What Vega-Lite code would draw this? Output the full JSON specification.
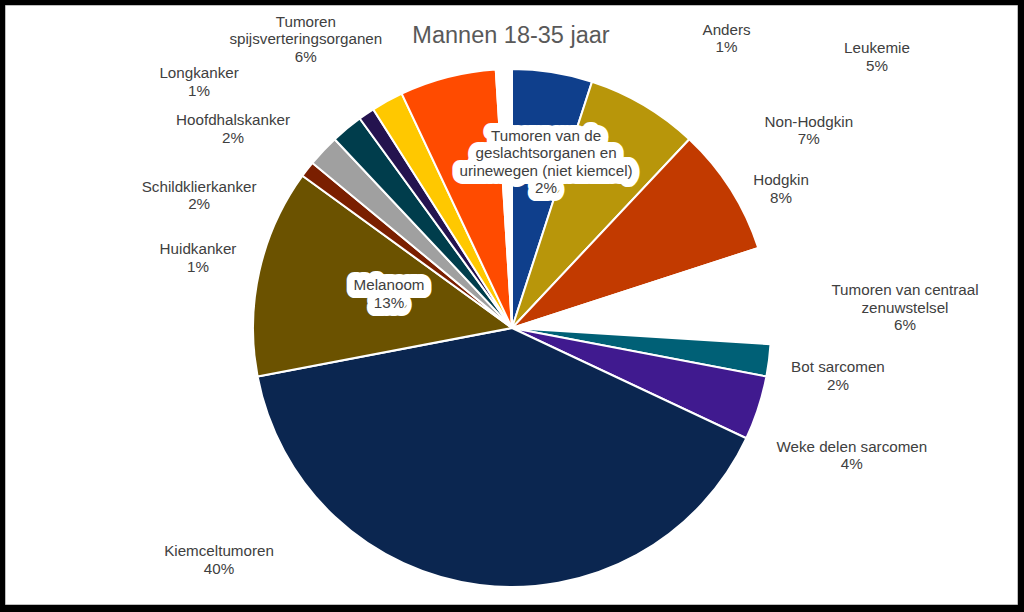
{
  "$schema": "https://vega.github.io/schema/vega-lite/v6.json",
  "width": 1024,
  "height": 612,
  "autosize": {"type": "fit", "contains": "padding"},
  "padding": {"top": 5, "left": 5, "right": 7, "bottom": 8},
  "background": "black",
  "view": {"fill": "white", "stroke": "#bfbfbf", "strokeWidth": 1},
  "title": {"text": "Mannen 18-35 jaar", "font": "Liberation Sans", "fontSize": 23.5, "fontWeight": "normal", "color": "#595959", "offset": -61, "baseline": "alphabetic", "anchor": "middle"},
  "config": {
    "view": {"fill": "white", "stroke": "#bfbfbf", "strokeWidth": 1},
    "style": {"view": {"fill": "white", "stroke": "#bfbfbf", "strokeWidth": 1}},
    "text": {"font": "Liberation Sans", "fontSize": 15.2, "fill": "#404040", "lineHeight": 17.5}
  },
  "data": {"values": [
    {"idx": 1, "category": "Leukemie", "pct": 5, "label": ["Leukemie", "5%"]},
    {"idx": 2, "category": "Non-Hodgkin", "pct": 7, "label": ["Non-Hodgkin", "7%"]},
    {"idx": 3, "category": "Hodgkin", "pct": 8, "label": ["Hodgkin", "8%"]},
    {"idx": 4, "category": "Tumoren van centraal zenuwstelsel", "pct": 6, "label": ["Tumoren van centraal", "zenuwstelsel", "6%"]},
    {"idx": 5, "category": "Bot sarcomen", "pct": 2, "label": ["Bot sarcomen", "2%"]},
    {"idx": 6, "category": "Weke delen sarcomen", "pct": 4, "label": ["Weke delen sarcomen", "4%"]},
    {"idx": 7, "category": "Kiemceltumoren", "pct": 40, "label": ["Kiemceltumoren", "40%"]},
    {"idx": 8, "category": "Melanoom", "pct": 13, "label": ["Melanoom", "13%"]},
    {"idx": 9, "category": "Huidkanker", "pct": 1, "label": ["Huidkanker", "1%"]},
    {"idx": 10, "category": "Schildklierkanker", "pct": 2, "label": ["Schildklierkanker", "2%"]},
    {"idx": 11, "category": "Hoofdhalskanker", "pct": 2, "label": ["Hoofdhalskanker", "2%"]},
    {"idx": 12, "category": "Longkanker", "pct": 1, "label": ["Longkanker", "1%"]},
    {"idx": 13, "category": "Tumoren van de geslachtsorganen en urinewegen (niet kiemcel)", "pct": 2, "label": ["Tumoren van de", "geslachtsorganen en", "urinewegen (niet kiemcel)", "2%"]},
    {"idx": 14, "category": "Tumoren spijsverteringsorganen", "pct": 6, "label": ["Tumoren", "spijsverteringsorganen", "6%"]},
    {"idx": 15, "category": "Anders", "pct": 1, "label": ["Anders", "1%"]}
  ]},
  "transform": [
    {"stack": "pct", "groupby": [], "sort": [{"field": "idx", "order": "ascending"}], "as": ["s0", "s1"]}
  ],
  "layer": [
    {
      "mark": {"type": "arc", "outerRadius": 259, "stroke": "white", "strokeWidth": 2, "xOffset": 1, "yOffset": 23.5},
      "encoding": {
        "theta": {"field": "s0", "type": "quantitative", "scale": {"domain": [0, 100]}},
        "theta2": {"field": "s1"},
        "color": {"field": "category", "type": "nominal", "legend": null,
          "scale": {
            "domain": ["Leukemie", "Non-Hodgkin", "Hodgkin", "Tumoren van centraal zenuwstelsel", "Bot sarcomen", "Weke delen sarcomen", "Kiemceltumoren", "Melanoom", "Huidkanker", "Schildklierkanker", "Hoofdhalskanker", "Longkanker", "Tumoren van de geslachtsorganen en urinewegen (niet kiemcel)", "Tumoren spijsverteringsorganen", "Anders"],
            "range": ["#0F3F8C", "#B8960A", "#C23A00", "#FFFFFF", "#006076", "#401A8F", "#0B2650", "#6B5200", "#7A1F00", "#A0A0A0", "#003D4C", "#24134F", "#FFC800", "#FF4B00", "#FFFFFF"]
          }
        }
      }
    },
    {"transform": [{"filter": "datum.category === 'Leukemie'"}],
     "mark": {"type": "text", "radius": 454.6, "thetaOffset": 0.932, "xOffset": 1, "yOffset": 23.5, "dy": -8.75, "align": "center", "baseline": "middle"},
     "encoding": {"theta": {"field": "s0", "type": "quantitative", "stack": null}, "text": {"field": "label"}}},
    {"transform": [{"filter": "datum.category === 'Non-Hodgkin'"}],
     "mark": {"type": "text", "radius": 356.4, "thetaOffset": 0.67, "xOffset": 1, "yOffset": 23.5, "dy": -8.75, "align": "center", "baseline": "middle"},
     "encoding": {"theta": {"field": "s0", "type": "quantitative", "stack": null}, "text": {"field": "label"}}},
    {"transform": [{"filter": "datum.category === 'Hodgkin'"}],
     "mark": {"type": "text", "radius": 302.8, "thetaOffset": 0.34, "xOffset": 1, "yOffset": 23.5, "dy": -8.75, "align": "center", "baseline": "middle"},
     "encoding": {"theta": {"field": "s0", "type": "quantitative", "stack": null}, "text": {"field": "label"}}},
    {"transform": [{"filter": "datum.category === 'Tumoren van centraal zenuwstelsel'"}],
     "mark": {"type": "text", "radius": 393.5, "thetaOffset": 0.263, "xOffset": 1, "yOffset": 23.5, "dy": -17.5, "align": "center", "baseline": "middle"},
     "encoding": {"theta": {"field": "s0", "type": "quantitative", "stack": null}, "text": {"field": "label"}}},
    {"transform": [{"filter": "datum.category === 'Bot sarcomen'"}],
     "mark": {"type": "text", "radius": 329.5, "thetaOffset": 0.084, "xOffset": 1, "yOffset": 23.5, "dy": -8.75, "align": "center", "baseline": "middle"},
     "encoding": {"theta": {"field": "s0", "type": "quantitative", "stack": null}, "text": {"field": "label"}}},
    {"transform": [{"filter": "datum.category === 'Weke delen sarcomen'"}],
     "mark": {"type": "text", "radius": 362.9, "thetaOffset": 0.17, "xOffset": 1, "yOffset": 23.5, "dy": -8.75, "align": "center", "baseline": "middle"},
     "encoding": {"theta": {"field": "s0", "type": "quantitative", "stack": null}, "text": {"field": "label"}}},
    {"transform": [{"filter": "datum.category === 'Kiemceltumoren'"}],
     "mark": {"type": "text", "radius": 373.7, "thetaOffset": 2.032, "xOffset": 1, "yOffset": 23.5, "dy": -8.75, "align": "center", "baseline": "middle"},
     "encoding": {"theta": {"field": "s0", "type": "quantitative", "stack": null}, "text": {"field": "label"}}},
    {"transform": [{"filter": "datum.category === 'Melanoom'"}],
     "mark": {"type": "text", "radius": 127.6, "thetaOffset": 0.459, "xOffset": 1, "yOffset": 23.5, "dy": -8.75, "align": "center", "baseline": "middle", "fill": "white", "stroke": "white", "strokeWidth": 16, "strokeJoin": "round"},
     "encoding": {"theta": {"field": "s0", "type": "quantitative", "stack": null}, "text": {"field": "label"}}},
    {"transform": [{"filter": "datum.category === 'Melanoom'"}],
     "mark": {"type": "text", "radius": 127.6, "thetaOffset": 0.459, "xOffset": 1, "yOffset": 23.5, "dy": -8.75, "align": "center", "baseline": "middle"},
     "encoding": {"theta": {"field": "s0", "type": "quantitative", "stack": null}, "text": {"field": "label"}}},
    {"transform": [{"filter": "datum.category === 'Huidkanker'"}],
     "mark": {"type": "text", "radius": 321.7, "thetaOffset": -0.409, "xOffset": 1, "yOffset": 23.5, "dy": -8.75, "align": "center", "baseline": "middle"},
     "encoding": {"theta": {"field": "s0", "type": "quantitative", "stack": null}, "text": {"field": "label"}}},
    {"transform": [{"filter": "datum.category === 'Schildklierkanker'"}],
     "mark": {"type": "text", "radius": 339.7, "thetaOffset": -0.291, "xOffset": 1, "yOffset": 23.5, "dy": -8.75, "align": "center", "baseline": "middle"},
     "encoding": {"theta": {"field": "s0", "type": "quantitative", "stack": null}, "text": {"field": "label"}}},
    {"transform": [{"filter": "datum.category === 'Hoofdhalskanker'"}],
     "mark": {"type": "text", "radius": 342.7, "thetaOffset": -0.197, "xOffset": 1, "yOffset": 23.5, "dy": -8.75, "align": "center", "baseline": "middle"},
     "encoding": {"theta": {"field": "s0", "type": "quantitative", "stack": null}, "text": {"field": "label"}}},
    {"transform": [{"filter": "datum.category === 'Longkanker'"}],
     "mark": {"type": "text", "radius": 398.1, "thetaOffset": -0.276, "xOffset": 1, "yOffset": 23.5, "dy": -8.75, "align": "center", "baseline": "middle"},
     "encoding": {"theta": {"field": "s0", "type": "quantitative", "stack": null}, "text": {"field": "label"}}},
    {"transform": [{"filter": "datum.category === 'Tumoren van de geslachtsorganen en urinewegen (niet kiemcel)'"}],
     "mark": {"type": "text", "radius": 169.4, "thetaOffset": 0.768, "xOffset": 1, "yOffset": 23.5, "dy": -26.25, "align": "center", "baseline": "middle", "fill": "white", "stroke": "white", "strokeWidth": 16, "strokeJoin": "round"},
     "encoding": {"theta": {"field": "s0", "type": "quantitative", "stack": null}, "text": {"field": "label"}}},
    {"transform": [{"filter": "datum.category === 'Tumoren van de geslachtsorganen en urinewegen (niet kiemcel)'"}],
     "mark": {"type": "text", "radius": 169.4, "thetaOffset": 0.768, "xOffset": 1, "yOffset": 23.5, "dy": -26.25, "align": "center", "baseline": "middle"},
     "encoding": {"theta": {"field": "s0", "type": "quantitative", "stack": null}, "text": {"field": "label"}}},
    {"transform": [{"filter": "datum.category === 'Tumoren spijsverteringsorganen'"}],
     "mark": {"type": "text", "radius": 354.9, "thetaOffset": -0.18, "xOffset": 1, "yOffset": 23.5, "dy": -17.5, "align": "center", "baseline": "middle"},
     "encoding": {"theta": {"field": "s0", "type": "quantitative", "stack": null}, "text": {"field": "label"}}},
    {"transform": [{"filter": "datum.category === 'Anders'"}],
     "mark": {"type": "text", "radius": 360.2, "thetaOffset": 0.701, "xOffset": 1, "yOffset": 23.5, "dy": -8.75, "align": "center", "baseline": "middle"},
     "encoding": {"theta": {"field": "s0", "type": "quantitative", "stack": null}, "text": {"field": "label"}}}
  ]
}
